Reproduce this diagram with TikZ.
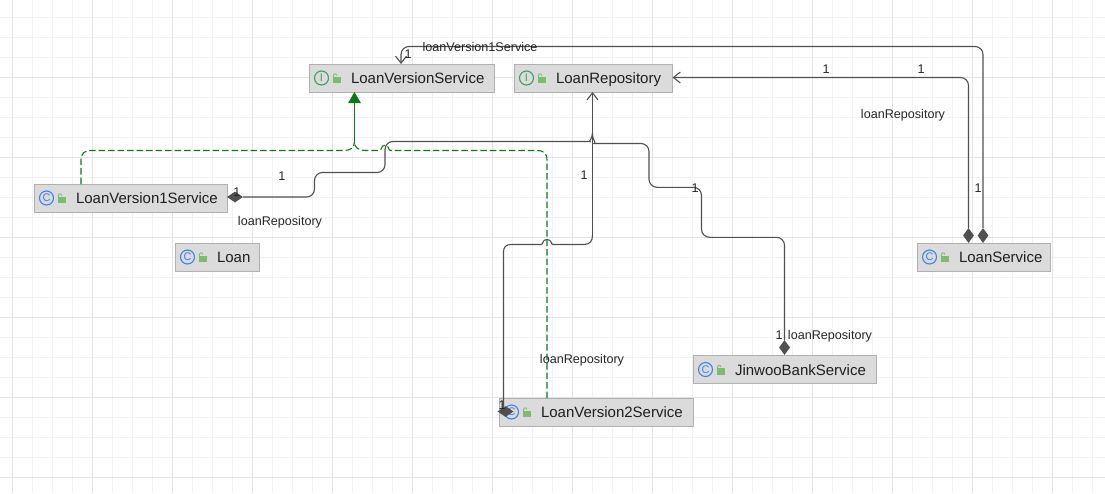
\documentclass[tikz,border=0pt]{standalone}
\usepackage{fontspec}
\setmainfont{Liberation Sans}
\usetikzlibrary{shapes.geometric,arrows.meta}
\definecolor{gridminor}{HTML}{F2F2F2}
\definecolor{gridmajor}{HTML}{E4E4E4}
\definecolor{boxfill}{HTML}{DBDBDB}
\definecolor{boxline}{HTML}{B0B0B0}
\definecolor{conn}{HTML}{505050}
\definecolor{implgreen}{HTML}{0B7A16}
\definecolor{iconblue}{HTML}{3C82F0}
\definecolor{icongreen}{HTML}{3FA060}
\definecolor{lockgreen}{HTML}{7DBB6E}
\tikzset{
  x=1pt,y=-1pt,
  umlbox/.style={draw=boxline,fill=boxfill,line width=1pt,inner sep=0pt,align=left,text height=12pt,text depth=1pt,minimum height=28pt,text=black!88,font=\fontsize{15}{16}\selectfont},
  lbl/.style={inner sep=0pt,text height=9pt,text depth=2pt,yshift=-1pt,text=black!85,font=\fontsize{12.6}{14}\selectfont},
  assoc/.style={draw=conn,line width=1.1pt,rounded corners=8pt},
  impl/.style={draw=implgreen,line width=1.1pt,dash pattern=on 6.5pt off 3pt},
  compoV/.style={diamond,fill=conn,inner sep=0pt,minimum width=11pt,minimum height=15pt},
  compoH/.style={diamond,fill=conn,inner sep=0pt,minimum width=16pt,minimum height=11pt},
  icon/.style={circle,draw=#1,line width=1.1pt,text=#1,inner sep=0pt,minimum size=14pt,font=\fontsize{11}{11}\selectfont},
  lockb/.style={fill=lockgreen,draw=none,inner sep=0pt,minimum width=8pt,minimum height=6.5pt},
  openarrow/.style={-{Straight Barb[length=7pt,width=11pt,line width=1.1pt]}},
}
\newcommand{\umlnode}[8]{%
  \node[umlbox,text width=#4-#2 pt,minimum width=#4-#2 pt] (#1) at ({(#2+#4)/2},{(#3+#5)/2}) {\hspace*{#6pt}#8};
  \node[icon=#7] (#1c) at ({#2+12},{(#3+#5)/2}) {\ifnum\pdfstrcmp{#7}{iconblue}=0 C\else I\fi};
  \node[lockb] (#1l) at ({#2+27},{(#3+#5)/2+2}) {};
  \draw[lockgreen,line width=0.9pt] ({#2+23.7},{(#3+#5)/2-1}) .. controls ({#2+23.7},{(#3+#5)/2-5}) and ({#2+27},{(#3+#5)/2-5}) .. ({#2+27.3},{(#3+#5)/2-2.5});
}
\begin{document}
\begin{tikzpicture}
\useasboundingbox (0,0) rectangle (1105,493);
\fill[white] (0,0) rectangle (1105,493);
% grid
\foreach \gx in {12,32,...,1100} \draw[gridminor,line width=0.9pt] (\gx,0) -- (\gx,493);
\foreach \gy in {17,37,...,490} \draw[gridminor,line width=0.9pt] (0,\gy) -- (1105,\gy);
\foreach \gx in {12,92,...,1100} \draw[gridmajor,line width=0.9pt] (\gx,0) -- (\gx,493);
\foreach \gy in {77,157,...,490} \draw[gridmajor,line width=0.9pt] (0,\gy) -- (1105,\gy);

% classes
\umlnode{lvs}{309.5}{64}{494.5}{92}{41.5}{icongreen}{LoanVersionService}
\umlnode{repo}{514.5}{64}{672.5}{92}{41.5}{icongreen}{LoanRepository}
\umlnode{vone}{34.5}{184}{227}{212}{41.5}{iconblue}{LoanVersion1Service}
\umlnode{loan}{175.5}{243}{259.5}{271}{41.5}{iconblue}{Loan}
\umlnode{svc}{917.5}{243}{1050.5}{271}{41.5}{iconblue}{LoanService}
\umlnode{jbs}{693.5}{356}{876.5}{383}{41.5}{iconblue}{JinwooBankService}
\umlnode{vtwo}{499.5}{398}{693}{426}{41.5}{iconblue}{LoanVersion2Service}

% composition ends
\node[compoH] (dvone) at (235,197) {};
\node[compoH] (dvtwo) at (505.5,411.5) {};
\node[compoV] (djbs) at (784.5,347.5) {};
\node[compoV] (dsvcr) at (968.5,235.5) {};
\node[compoV] (dsvcv) at (983,235.5) {};

% targets and free ends
\coordinate (tlvs) at (354.5,92);
\coordinate (tlvsv) at (401,64);
\coordinate (trepo) at (592.5,92);
\coordinate (trepos) at (672.5,77.5);
\coordinate (svone) at (81,184);
\coordinate (svtwo) at (547,398);

% realization edges
\draw[impl] (svone) -- (81,160) .. controls (81,153) and (85,150.5) .. (91,150.5) -- (344,150.5) .. controls (350,150.5) and (354.5,148) .. (354.5,142);
\draw[impl] (svtwo) -- (547,160) .. controls (547,153) and (543,150.5) .. (537,150.5) -- (390.5,150.5) .. controls (388,150.5) and (389.5,145.3) .. (385,145.3) .. controls (380.5,145.3) and (382,150.5) .. (379.5,150.5) -- (365,150.5) .. controls (359,150.5) and (354.5,148) .. (354.5,142);
\draw[draw=implgreen,line width=1.1pt,-{Triangle[length=11pt,width=12.5pt]}] (354.5,143) -- (tlvs);

% repository edges
\draw[assoc] (dvone.east) -- (314.5,197) -- (314.5,172.5) -- (385,172.5) -- (385,141.5) -- (582,141.5) .. controls (588,141.5) and (592.5,139) .. (592.5,133);
\draw[assoc,sharp corners] (592.5,235) .. controls (592.5,241) and (590,244.5) .. (584,244.5) -- (553,244.5) .. controls (550.5,244.5) and (552,239.5) .. (547,239.5) .. controls (542,239.5) and (543.5,244.5) .. (541,244.5) -- (511,244.5) .. controls (506,244.5) and (503.5,247) .. (503.5,252) -- (503.5,411.5);
\draw[assoc,sharp corners,openarrow] (592.5,235) -- (trepo);
\draw[assoc] (djbs.north) -- (784.5,237.3) -- (701.5,237.3) -- (701.5,187.3) -- (649,187.3) -- (649,143.5) -- (602,143.5) .. controls (597,143.5) and (592.5,141) .. (592.5,133);
\draw[assoc,openarrow] (dsvcr.north) -- (968.5,77.5) -- (trepos);
\draw[assoc,openarrow] (dsvcv.north) -- (983,46.5) -- (401,46.5) -- (tlvsv);

% labels
\node[lbl] (a1) at (408,53.5) {1};
\node[lbl] (a2) at (480,47) {loanVersion1Service};
\node[lbl] (a3) at (826,69) {1};
\node[lbl] (a4) at (921,69) {1};
\node[lbl] (a5) at (903,114) {loanRepository};
\node[lbl] (a6) at (978,188) {1};
\node[lbl] (a7) at (584,175) {1};
\node[lbl] (a8) at (695,188) {1};
\node[lbl] (a9) at (282,175.5) {1};
\node[lbl] (a10) at (237,191.5) {1};
\node[lbl] (a11) at (280,221) {loanRepository};
\node[lbl] (a12) at (779,335) {1};
\node[lbl] (a13) at (830,335) {loanRepository};
\node[lbl] (a14) at (582,359) {loanRepository};
\node[lbl] (a15) at (502,405) {1};
\end{tikzpicture}
\end{document}
